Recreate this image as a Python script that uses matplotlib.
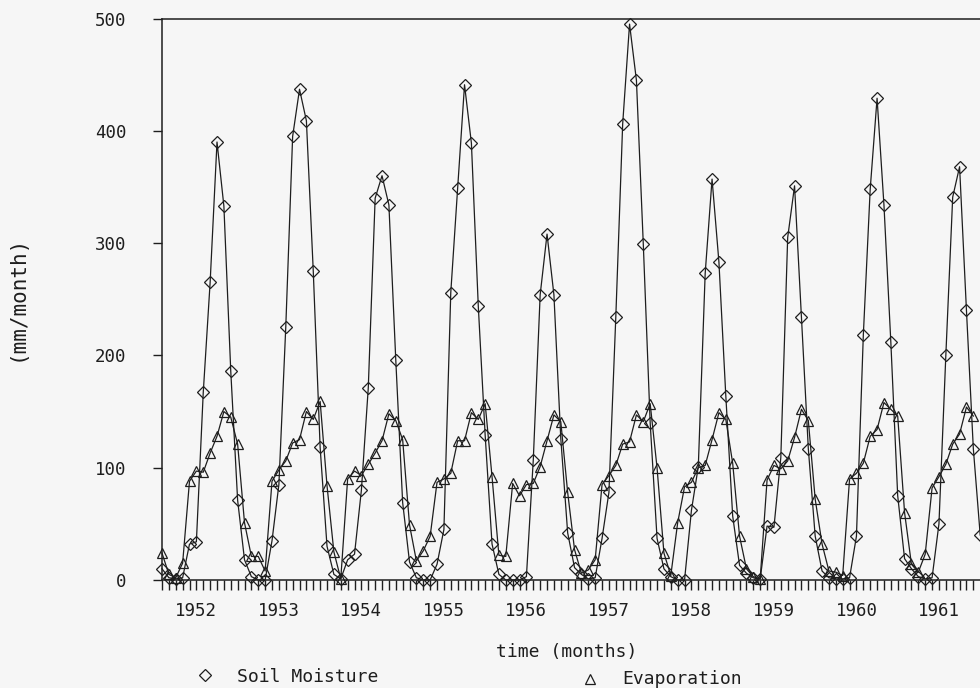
import numpy as np
import matplotlib
matplotlib.use('Agg')
import matplotlib.pyplot as plt
from matplotlib.lines import Line2D

# monthly series, first value = Aug 1951
years = ['1952', '1953', '1954', '1955', '1956', '1957', '1958', '1959', '1960', '1961']

soil_moisture = [
    10, 2, 1, 2, 32, 34, 167, 265, 390, 333, 186, 71,
    18, 3, 0, 0, 35, 85, 225, 395, 437, 409, 275, 118,
    30, 5, 1, 18, 23, 80, 171, 340, 360, 334, 196, 69,
    16, 2, 0, 0, 14, 45, 256, 349, 441, 389, 244, 129,
    32, 5, 0, 0, 0, 3, 107, 254, 308, 254, 126, 42,
    11, 5, 1, 2, 37, 78, 234, 406, 495, 445, 299, 140,
    37, 10, 3, 0, 0, 62, 101, 273, 357, 283, 164, 57,
    13, 6, 2, 1, 48, 47, 109, 305, 351, 234, 117, 39,
    8, 2, 1, 1, 2, 39, 218, 348, 429, 334, 212, 75,
    19, 10, 3, 1, 2, 50, 200, 341, 368, 240, 117, 40,
]

evaporation = [
    24, 5, 2, 15, 88, 97, 96, 113, 128, 150, 145, 121,
    51, 21, 21, 8, 88, 98, 106, 122, 125, 150, 143, 159,
    84, 25, 1, 90, 97, 93, 103, 113, 124, 148, 142, 125,
    49, 17, 26, 39, 87, 90, 95, 124, 124, 149, 143, 157,
    92, 22, 21, 86, 75, 85, 86, 101, 124, 147, 141, 78,
    27, 6, 9, 18, 85, 93, 102, 121, 123, 147, 141, 157,
    100, 24, 4, 51, 83, 87, 100, 102, 125, 149, 143, 104,
    39, 10, 3, 1, 89, 102, 99, 106, 127, 152, 142, 72,
    32, 8, 7, 4, 90, 95, 104, 128, 134, 158, 152, 146,
    60, 14, 7, 23, 82, 92, 103, 121, 130, 154, 146,
]

ink = '#1e1e1e'
paper = '#f6f6f6'
plt.rcParams['font.family'] = ['DejaVu Sans Mono', 'DejaVu Sans']

fig = plt.figure(figsize=(9.8, 6.88), dpi=100)
fig.patch.set_facecolor(paper)

# axes run off the right edge of the picture
ax = fig.add_axes([162 / 980, 1 - 580 / 688, 1 - 162 / 980, 561.5 / 688])
ax.set_facecolor(paper)

m_sm = np.arange(len(soil_moisture))
m_ev = np.arange(len(evaporation))

ax.plot(m_sm, soil_moisture, color=ink, lw=0.9, marker='D', ms=6.3,
        mfc='none', mec=ink, mew=0.9, clip_on=False)
ax.plot(m_ev, evaporation, color=ink, lw=0.9, marker='^', ms=7.5,
        mfc='none', mec=ink, mew=0.9, clip_on=False)

ax.set_xlim(0, 118.97)
ax.set_ylim(0, 500)

for side in ['left', 'bottom', 'top']:
    ax.spines[side].set_linewidth(1.1)
    ax.spines[side].set_color(ink)
ax.spines['right'].set_visible(False)

ax.set_yticks(range(0, 501, 100))
ax.tick_params(axis='y', direction='out', length=6.5, width=1, pad=19,
               labelsize=12.5, colors=ink)

ax.set_xticks([5 + 12 * k for k in range(len(years))])
ax.set_xticklabels(years)
ax.set_xticks(np.arange(0, 119), minor=True)
ax.tick_params(axis='x', which='both', direction='out', length=7, width=1,
               pad=9, labelsize=12.5, colors=ink)

fig.text(567 / 980, 1 - 652 / 688, 'time (months)', ha='center', va='center',
         fontsize=13, color=ink)
fig.text(17 / 980, 1 - 298 / 688, '(mm/month)', ha='center', va='center',
         rotation=90, fontsize=15, color=ink)

# legend below the axis label
fig.add_artist(Line2D([205 / 980], [1 - 675 / 688], marker='D', ms=6.3, mfc='none',
                      mec=ink, mew=0.9, transform=fig.transFigure))
fig.text(237 / 980, 1 - 677 / 688, 'Soil Moisture', ha='left', va='center',
         fontsize=13, color=ink)
fig.add_artist(Line2D([590 / 980], [1 - 679 / 688], marker='^', ms=7.5, mfc='none',
                      mec=ink, mew=0.9, transform=fig.transFigure))
fig.text(622 / 980, 1 - 679 / 688, 'Evaporation', ha='left', va='center',
         fontsize=13, color=ink)

fig.savefig('out.png', dpi=100, facecolor=paper)
